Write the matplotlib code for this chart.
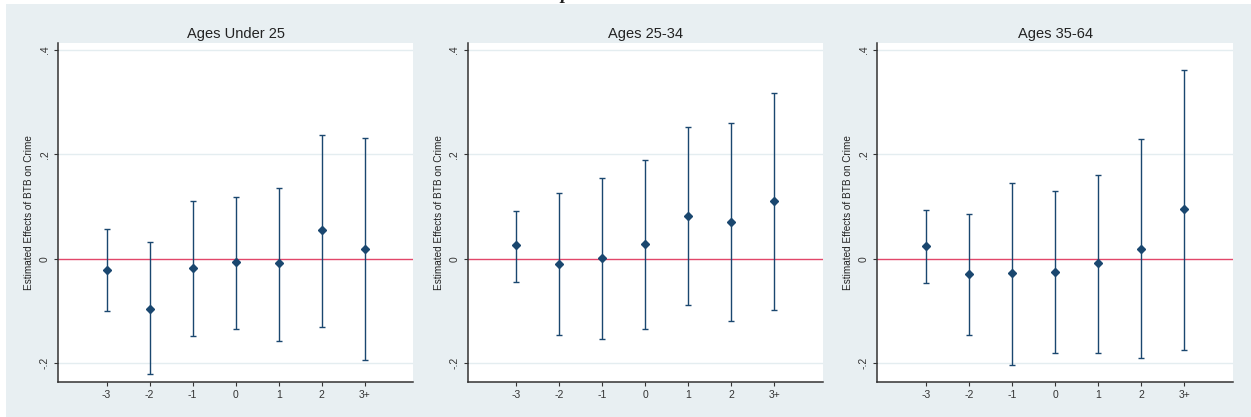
import matplotlib
matplotlib.use("Agg")
import matplotlib.pyplot as plt
from matplotlib.patches import Rectangle

plt.rcParams['font.family'] = ['Liberation Sans', 'DejaVu Sans']

periods = ["-3", "-2", "-1", "0", "1", "2", "3+"]
titles = ["Ages Under 25", "Ages 25-34", "Ages 35-64"]

est_u25 = [-0.021, -0.096, -0.018, -0.007, -0.009, 0.055, 0.018]
lo_u25 = [-0.100, -0.222, -0.149, -0.135, -0.157, -0.131, -0.194]
hi_u25 = [0.056, 0.031, 0.111, 0.119, 0.136, 0.238, 0.231]

est_2534 = [0.026, -0.011, 0.002, 0.028, 0.082, 0.071, 0.111]
lo_2534 = [-0.044, -0.147, -0.155, -0.135, -0.089, -0.120, -0.099]
hi_2534 = [0.092, 0.125, 0.155, 0.190, 0.252, 0.261, 0.317]

est_3564 = [0.024, -0.030, -0.028, -0.025, -0.009, 0.018, 0.095]
lo_3564 = [-0.047, -0.147, -0.204, -0.180, -0.180, -0.191, -0.175]
hi_3564 = [0.094, 0.085, 0.145, 0.129, 0.160, 0.229, 0.362]

series = [(est_u25, lo_u25, hi_u25), (est_2534, lo_2534, hi_2534), (est_3564, lo_3564, hi_3564)]

W, H = 1251, 417
fig = plt.figure(figsize=(W / 100, H / 100), dpi=100, facecolor="white")
bg = "#e8eff2"
fig.patches.append(Rectangle((6 / W, 0), 1 - 6 / W, 1 - 4 / H, transform=fig.transFigure,
                             facecolor=bg, edgecolor="none", zorder=-10))
fig.text(565 / W, 1.0 + 1 / H, "p", family="Liberation Serif", fontsize=14, fontstyle="italic",
         fontweight="bold", ha="center", va="baseline", color="#222222")

lefts = [58, 467.7, 877.3]
rights = [413.3, 822.7, 1233]
top_px, bot_px = 43.3, 381.7
navy = "#1a476f"
xs = list(range(-3, 4))

for i in range(3):
    l, r = lefts[i], rights[i]
    ax = fig.add_axes([l / W, 1 - bot_px / H, (r - l) / W, (bot_px - top_px) / H])
    ax.set_facecolor("white")
    est, lo, hi = series[i]
    yerr = [[e - a for e, a in zip(est, lo)], [b - e for e, b in zip(est, hi)]]
    for y in (-0.2, 0.2, 0.4):
        ax.axhline(y, color="#e4edf0", lw=1, zorder=1)
    ax.axhline(0, color="#e2476a", lw=1, zorder=2)
    ax.errorbar(xs, est, yerr=yerr, fmt="D", color=navy, ms=4.3, mec=navy, mfc=navy,
                ecolor=navy, elinewidth=1, capsize=2.5, capthick=1, zorder=3)
    ax.set_xlim(-4.13, 4.13)
    ax.set_ylim(-0.236, 0.413)
    ax.set_xticks(xs)
    ax.set_xticklabels(periods)
    ax.set_yticks([-0.2, 0, 0.2, 0.4])
    ax.set_yticklabels(["-.2", "0", ".2", ".4"], rotation=90, va="center")
    for s in ("top", "right"):
        ax.spines[s].set_visible(False)
    for s in ("left", "bottom"):
        ax.spines[s].set_color("#333333")
        ax.spines[s].set_linewidth(1.1)
    ax.tick_params(axis="both", length=3, width=0.8, color="#333333", labelsize=7.5,
                   labelcolor="#333333", pad=3)
    ax.set_ylabel("Estimated Effects of BTB on Crime", fontsize=7.2, color="#222222", labelpad=4)
    ax.set_title(titles[i], fontsize=10.5, color="#222222", pad=4)

fig.savefig("out.png", dpi=100, facecolor="white")
